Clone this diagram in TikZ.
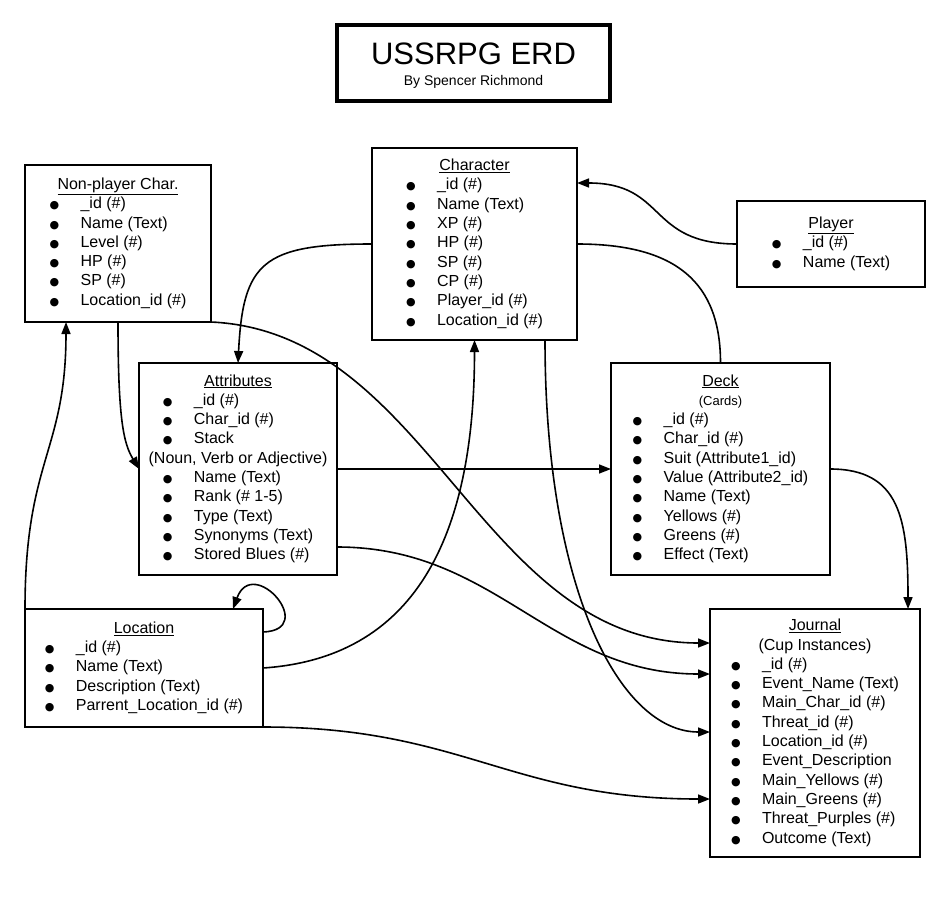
\documentclass[tikz,border=0pt]{standalone}
\usepackage{fontspec}
\setmainfont{Liberation Sans}
\newfontfamily\dotfont{DejaVu Sans}
\usetikzlibrary{arrows.meta,calc}

\newcommand{\itm}[1]{\makebox[31pt][l]{{\dotfont\fontsize{11}{11}\selectfont ●}}#1}
\newcommand{\entity}[2]{\begin{tabular}{@{}c@{}}#1\\\begin{tabular}{@{}l@{}}#2\end{tabular}\end{tabular}}

\begin{document}
\begin{tikzpicture}[x=1pt,y=-1pt,
    table/.style={draw, rectangle, line width=1.6pt, anchor=north west, inner sep=0pt, outer sep=0pt,
      font=\fontsize{16}{19.3}\selectfont},
    link/.style={line width=1.6pt, -{Triangle[length=12pt,width=9pt]}}]
    \useasboundingbox (0,0) rectangle (949,917);

    \node[table, line width=3.6pt, minimum width=273pt, minimum height=76pt] (title) at (337,25) {};
    \node[inner sep=0pt, font=\fontsize{16}{19.3}\selectfont] (titletext) at ($(title.center)+(0,4)$)
      {\begin{tabular}{@{}c@{}}{\fontsize{31}{31}\selectfont USSRPG ERD}\\[2pt]{\fontsize{14}{17}\selectfont By Spencer Richmond}\end{tabular}};

    \node[table, minimum width=186pt, minimum height=157pt] (npc) at (25,165)
      {\entity{\underline{Non-player Char.}}{\itm{\_id (\#)}\\\itm{Name (Text)}\\\itm{Level (\#)}\\\itm{HP (\#)}\\\itm{SP (\#)}\\\itm{Location\_id (\#)}}};
    \node[table, minimum width=205pt, minimum height=192pt] (char) at (372,148)
      {\entity{\underline{Character}}{\itm{\_id (\#)}\\\itm{Name (Text)}\\\itm{XP (\#)}\\\itm{HP (\#)}\\\itm{SP (\#)}\\\itm{CP (\#)}\\\itm{Player\_id (\#)}\\\itm{Location\_id (\#)}}\hspace{10pt}};
    \node[table, minimum width=188pt, minimum height=86pt] (player) at (737,201)
      {\entity{\underline{Player}}{\itm{\_id (\#)}\\\itm{Name (Text)}}};
    \node[table, minimum width=198pt, minimum height=212pt] (attr) at (139,363)
      {\entity{\underline{Attributes}}{\itm{\_id (\#)}\\\itm{Char\_id (\#)}\\\itm{Stack}\\
        \multicolumn{1}{@{}c@{}}{\makebox[0pt]{(Noun, Verb or Adjective)}}\\
        \itm{Name (Text)}\\\itm{Rank (\# 1-5)}\\\itm{Type (Text)}\\\itm{Synonyms (Text)}\\\itm{Stored Blues (\#)}}};
    \node[table, minimum width=219pt, minimum height=212pt] (deck) at (611,363)
      {\entity{\underline{Deck}\\{\fontsize{13}{19.3}\selectfont (Cards)}}{\itm{\_id (\#)}\\\itm{Char\_id (\#)}\\\itm{Suit (Attribute1\_id)}\\
        \itm{Value (Attribute2\_id)}\\\itm{Name (Text)}\\\itm{Yellows (\#)}\\\itm{Greens (\#)}\\\itm{Effect (Text)}}};
    \node[table, minimum width=238pt, minimum height=118pt] (loc) at (25,609)
      {\entity{\underline{Location}}{\itm{\_id (\#)}\\\itm{Name (Text)}\\\itm{Description (Text)}\\\itm{Parrent\_Location\_id (\#)}}};
    \node[table, minimum width=210pt, minimum height=248pt] (journal) at (710,609)
      {\entity{\underline{Journal}\\(Cup Instances)}{\itm{\_id (\#)}\\\itm{Event\_Name (Text)}\\\itm{Main\_Char\_id (\#)}\\\itm{Threat\_id (\#)}\\
        \itm{Location\_id (\#)}\\\itm{Event\_Description}\\\itm{Main\_Yellows (\#)}\\\itm{Main\_Greens (\#)}\\\itm{Threat\_Purples (\#)}\\\itm{Outcome (Text)}}};

    % relations
    \draw[link] (player.west) .. controls +(-90,0) and +(90,0) .. ($(char.north east)+(0,35)$);
    \draw[link] (char.west) .. controls +(-110,0) and +(5,-100) .. (attr.north);
    \draw[line width=1.6pt] (char.east) .. controls +(100,0) and +(0,-80) .. (deck.north);
    \draw[link] (npc.south) .. controls +(0,100) and +(-15,-25) .. (attr.west);
    \draw[link] (loc.north west) .. controls +(0,-150) and +(0,130) .. ($(npc.south west)+(41,0)$);
    \draw[link] (npc.south east) .. controls +(220,10) and +(-230,0) .. ($(journal.north west)+(0,34)$);
    \draw[link] (attr.east) -- (deck.west);
    \draw[link] ($(attr.south east)+(0,-28)$) .. controls +(160,0) and +(-160,0) .. ($(journal.north west)+(0,65)$);
    \draw[link] (deck.east) .. controls +(70,0) and +(0,-90) .. ($(journal.north east)+(-12,0)$);
    \draw[link] ($(char.south east)+(-32,0)$) .. controls +(0,250) and +(-90,0) .. ($(journal.north west)+(0,123)$);
    \draw[link] (loc.east) .. controls +(150,-10) and +(0,200) .. (char.south);
    \draw[link] ($(loc.north east)+(0,23)$) .. controls +(56,-2) and +(20,-55) .. ($(loc.north east)+(-30,0)$);
    \draw[link] (loc.south east) .. controls +(200,0) and +(-200,0) .. ($(journal.north west)+(0,190)$);
\end{tikzpicture}
\end{document}
